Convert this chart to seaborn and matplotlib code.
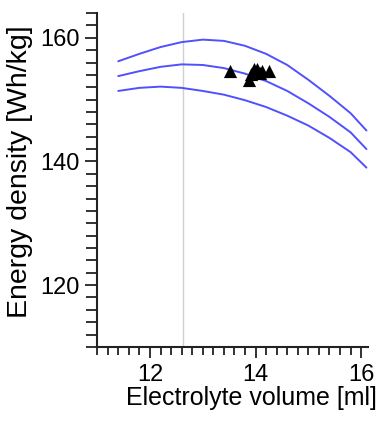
import numpy as np
import pandas as pd
import matplotlib
matplotlib.use("Agg")
import matplotlib.pyplot as plt
import seaborn as sns
from matplotlib.ticker import MultipleLocator

# Model curves
volume = [11.4, 11.8, 12.2, 12.6, 13.0, 13.4, 13.8, 14.2, 14.6, 15.0, 15.4, 15.8, 16.1]
upper = [156.2, 157.4, 158.5, 159.3, 159.7, 159.5, 158.7, 157.4, 155.6, 153.2, 150.6, 147.8, 145.0]
middle = [153.8, 154.6, 155.3, 155.7, 155.6, 155.1, 154.2, 153.0, 151.4, 149.4, 147.2, 144.7, 142.0]
lower = [151.4, 151.9, 152.1, 151.9, 151.4, 150.8, 149.9, 148.8, 147.4, 145.8, 143.8, 141.5, 139.0]

# Measured cells
meas_volume = [13.52, 13.88, 13.92, 13.97, 14.03, 14.08, 14.12, 14.25]
meas_energy = [154.6, 153.2, 154.2, 155.0, 154.9, 154.3, 154.6, 154.7]

ref_volume = 12.63

sns.set_style("ticks")
plt.rcParams['font.family'] = ['Liberation Sans', 'DejaVu Sans']

curves = pd.DataFrame({
    'volume': volume * 3,
    'energy': upper + middle + lower,
    'curve': ['upper'] * len(volume) + ['middle'] * len(volume) + ['lower'] * len(volume),
})
meas = pd.DataFrame({'volume': meas_volume, 'energy': meas_energy})

fig = plt.figure(figsize=(3.87, 4.21), dpi=100)
ax = fig.add_axes([0.251, 0.176, 0.700, 0.793])

ax.axvline(ref_volume, color='#d0d0d0', lw=1.0, zorder=0)
sns.lineplot(data=curves, x='volume', y='energy', units='curve', estimator=None,
             color='#5050ff', lw=1.4, ax=ax)
sns.scatterplot(data=meas, x='volume', y='energy', marker='^', s=90,
                color='black', edgecolor='black', linewidth=0, ax=ax, zorder=5)

ax.set_xlim(11.0, 16.13)
ax.set_ylim(110, 164)
ax.xaxis.set_major_locator(MultipleLocator(2))
ax.xaxis.set_minor_locator(MultipleLocator(0.2))
ax.yaxis.set_major_locator(MultipleLocator(20))
ax.yaxis.set_minor_locator(MultipleLocator(2))

ax.tick_params(axis='both', which='major', labelsize=17, width=1.3, color='#222222',
               labelcolor='black')
ax.tick_params(axis='x', which='major', length=8, pad=4)
ax.tick_params(axis='x', which='minor', length=6, width=1.3, color='#222222')
ax.tick_params(axis='y', which='major', length=9)
ax.tick_params(axis='y', which='minor', length=8, width=1.3, color='#222222')

for side in ['top', 'right']:
    ax.spines[side].set_visible(False)
for side in ['left', 'bottom']:
    ax.spines[side].set_linewidth(1.5)
    ax.spines[side].set_color('#222222')

ax.set_xlabel('Electrolyte volume [ml]', fontsize=18, color='black')
ax.set_ylabel('Energy density [Wh/kg]', fontsize=20.5, color='black')
ax.xaxis.set_label_coords(0.568, -0.117)
ax.yaxis.set_label_coords(-0.236, 0.525)
if ax.get_legend() is not None:
    ax.get_legend().remove()

fig.savefig('out.png', dpi=100)
